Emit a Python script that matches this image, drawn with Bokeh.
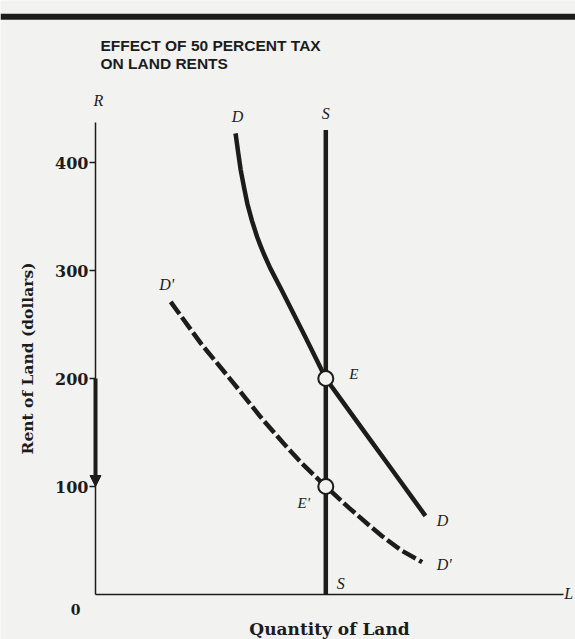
from bokeh.plotting import figure
from bokeh.models import Range1d, LinearAxis, FixedTicker, Arrow, NormalHead, Span
from bokeh.core.properties import value
from bokeh.embed import file_html
from bokeh.resources import INLINE

# ---------------- data ----------------
title_lines = ["EFFECT OF 50 PERCENT TAX", "ON LAND RENTS"]
x_label = "Quantity of Land"
y_label = "Rent of Land (dollars)"
rent_ticks = [100, 200, 300, 400]

# demand before tax (D)
quantity_D = [29.8, 30.35, 30.9, 31.6, 32.3, 33.3, 34.4, 35.1, 35.8, 37.2, 39.7, 42.2,
              44.7, 47.2, 49, 52.1, 55.3, 58.5, 61.7, 64.9, 67.5, 70.2]
rent_D = [427, 409.5, 393, 377, 362, 346, 331, 323, 315.5, 302, 281, 259.5,
          238, 216, 200, 181.4, 162.2, 143, 123.8, 104.6, 89, 72.8]

# demand after 50 percent tax (D')
quantity_D2 = [16, 22.5, 29.5, 35.1, 40, 44, 49, 54, 58.5, 61, 65, 69.5]
rent_D2 = [271, 232, 195, 164.5, 140, 121, 100, 80, 63, 54, 41, 30]

# fixed supply of land (S)
supply_q = [49, 49]
supply_r = [0, 430]

# equilibria E and E'
eq_q = [49, 49]
eq_r = [200, 100]
eq_names = ["E", "E'"]

# ---------------- layout ----------------
W, H = 575, 639
PXX, PXY = 4.7, 1.08          # pixels per data unit
OX, OY = 95, 594              # origin in canvas pixels
BG = "#f2f2f0"
INK = "#1c1c1c"
SERIF = value("Liberation Serif")

p = figure(width=W, height=H, output_backend="svg", toolbar_location=None,
           x_range=Range1d(-OX / PXX, (W - OX) / PXX),
           y_range=Range1d(-(H - OY) / PXY, OY / PXY),
           x_axis_location=None, y_axis_location=None, min_border=0,
           background_fill_color=BG, border_fill_color=BG, outline_line_color=None)
for g in p.grid:
    g.visible = False

yaxis = LinearAxis(fixed_location=0, bounds=(0, 437), ticker=FixedTicker(ticks=rent_ticks),
                   axis_label=y_label, axis_line_width=1.5, axis_line_color=INK,
                   major_tick_out=6, major_tick_in=0, major_tick_line_width=1.5,
                   major_tick_line_color=INK, minor_tick_out=0, minor_tick_in=0,
                   major_label_standoff=1, axis_label_standoff=15,
                   major_label_text_font="DejaVu Serif", major_label_text_font_style="bold",
                   major_label_text_font_size="16px", major_label_text_color=INK,
                   axis_label_text_font="DejaVu Serif", axis_label_text_font_style="bold",
                   axis_label_text_font_size="15.5px", axis_label_text_color=INK)
p.add_layout(yaxis, "left")

xaxis = LinearAxis(fixed_location=0, bounds=(0, 99.5), ticker=FixedTicker(ticks=[]),
                   axis_label=x_label, axis_line_width=1.5, axis_line_color=INK,
                   major_tick_out=0, major_tick_in=0, minor_tick_out=0, minor_tick_in=0,
                   major_label_standoff=0, axis_label_standoff=24,
                   axis_label_text_font="DejaVu Serif", axis_label_text_font_style="bold",
                   axis_label_text_font_size="17px", axis_label_text_color=INK)
p.add_layout(xaxis, "below")

# top rule
p.add_layout(Span(location=535, dimension="width", line_color=INK, line_width=6))

# title
p.text(x=[1.06, 1.06], y=[508, 491.5], text=title_lines, text_font=value("Liberation Sans"),
       text_font_style="bold", text_font_size="15.5px", text_color=INK,
       text_align="left", text_baseline="middle")

# curves
p.line(supply_q, supply_r, line_color=INK, line_width=4.5)
p.line(quantity_D, rent_D, line_color=INK, line_width=4.5, line_join="round")
p.line(quantity_D2, rent_D2, line_color=INK, line_width=4.5, line_dash="15 4",
       line_join="round")

# tax arrow on the rent axis
p.add_layout(Arrow(end=NormalHead(size=11, fill_color=INK, line_color=INK),
                   x_start=0, y_start=eq_r[0], x_end=0, y_end=eq_r[1],
                   line_color=INK, line_width=4))

# equilibrium points
p.scatter(eq_q, eq_r, size=15, fill_color=BG, line_color=INK, line_width=2)

def lab(x, y, t, dx, dy, italic=True, size="16px", align="center", font=SERIF):
    p.text(x=[x], y=[y], text=[t], x_offset=dx, y_offset=dy, text_font=font,
           text_font_style="italic" if italic else "bold", text_font_size=size,
           text_color=INK, text_align=align, text_baseline="middle")

lab(quantity_D[0], rent_D[0], "D", 2, -17)
lab(supply_q[1], supply_r[1], "S", 0, -17)
lab(quantity_D2[0], rent_D2[0], "D'", -4, -17)
lab(eq_q[0], eq_r[0], eq_names[0], 28, -5, size="15px")
lab(eq_q[1], eq_r[1], eq_names[1], -22, 16, size="15px")
lab(quantity_D[-1], rent_D[-1], "D", 17, 5)
lab(quantity_D2[-1], rent_D2[-1], "D'", 22, 2)
lab(supply_q[0], supply_r[0], "S", 15, -11)
lab(99.5, 0, "L", 1, -1, align="left")
lab(0, 437, "R", 3, -22)
lab(0, 0, "0", -20, 15, italic=False, size="14px", font=value("DejaVu Serif"))

open("out.html", "w").write(file_html(p, INLINE))
